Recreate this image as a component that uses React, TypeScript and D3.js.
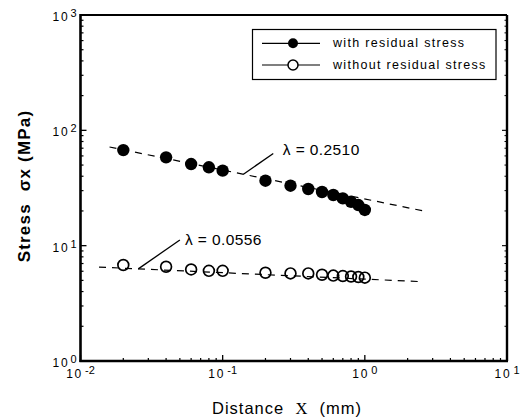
import React from 'react';
import * as d3 from 'd3';

// Measured stress along the distance from the notch root
const distance = [0.02, 0.04, 0.06, 0.08, 0.1, 0.2, 0.3, 0.4, 0.5, 0.6, 0.7, 0.8, 0.9, 1.0];
const withResidual = [67.4, 58.3, 51.0, 47.8, 44.7, 36.6, 33.1, 31.0, 29.2, 27.5, 25.7, 24.0, 22.5, 20.4];
const withoutResidual = [6.8, 6.56, 6.22, 6.05, 6.05, 5.82, 5.75, 5.75, 5.6, 5.5, 5.45, 5.4, 5.35, 5.28];

// Power-law fits  σ = A · x^(-λ)
const lambdaWith = 0.251;
const lambdaWithout = 0.0556;
const coefWith = 25.4;
const coefWithout = 5.13;
const fitRangeWith = [0.016, 2.6];
const fitRangeWithout = [0.0135, 2.4];

// Callout anchors (distance along fit, label end point, label position)
const calloutWith = { anchorX: 0.14, endX: 0.227, endY: 63, labelX: 0.265, labelY: 61 };
const calloutWithout = { anchorX: 0.0255, endX: 0.05, endY: 11.2, labelX: 0.0543, labelY: 10.1 };

const xTickValues = [0.01, 0.1, 1, 10];
const xTickExponents = ['-2', '-1', '0', '1'];
const yTickValues = [1, 10, 100, 1000];
const yTickExponents = ['0', '1', '2', '3'];
const legendLabels = ['with residual stress', 'without residual stress'];

const W = 524;
const H = 419;
const left = 80.5;
const right = 507;
const top = 15;
const bottom = 361;

const FONT = '"Liberation Sans", Arial, Helvetica, sans-serif';

function minorTicks(domain: number[]) {
  const out: number[] = [];
  for (let d = domain[0]; d < domain[1] * 0.999; d *= 10) {
    for (let k = 2; k <= 9; k++) out.push(d * k);
  }
  return out;
}

export default function App() {
  const x = d3.scaleLog().domain([0.01, 10]).range([left, right]);
  const y = d3.scaleLog().domain([1, 1000]).range([bottom, top]);

  const fit = (A: number, lam: number, range: number[]) => {
    const pts: [number, number][] = range.map((v) => [x(v), y(A * Math.pow(v, -lam))]);
    return d3.line()(pts) as string;
  };

  const xMinor = minorTicks([0.01, 10]);
  const yMinor = minorTicks([1, 1000]);

  const callout = (
    c: typeof calloutWith,
    A: number,
    lam: number,
    text: string,
  ) => (
    <g>
      <line
        x1={x(c.anchorX)}
        y1={y(A * Math.pow(c.anchorX, -lam))}
        x2={x(c.endX)}
        y2={y(c.endY)}
        stroke="#000"
        strokeWidth={1.3}
      />
      <text x={x(c.labelX)} y={y(c.labelY)} fontFamily={FONT} fontSize={15.5} letterSpacing={0.4} fill="#000">
        {text}
      </text>
    </g>
  );

  return (
    <svg width={W} height={H} style={{ position: 'absolute', left: 0, top: 0, background: '#fff' }}>
      <rect width={W} height={H} fill="#fff" />

      {/* fitted power-law lines */}
      <path d={fit(coefWith, lambdaWith, fitRangeWith)} stroke="#000" strokeWidth={1.2} strokeDasharray="7 6" fill="none" />
      <path d={fit(coefWithout, lambdaWithout, fitRangeWithout)} stroke="#000" strokeWidth={1.2} strokeDasharray="7 6" fill="none" />

      {/* data points */}
      {distance.map((d, i) => (
        <circle key={'w' + i} cx={x(d)} cy={y(withResidual[i])} r={6.2} fill="#000" />
      ))}
      {distance.map((d, i) => (
        <circle key={'o' + i} cx={x(d)} cy={y(withoutResidual[i])} r={5.4} fill="none" stroke="#000" strokeWidth={1.7} />
      ))}

      {callout(calloutWith, coefWith, lambdaWith, `λ = ${lambdaWith.toFixed(4)}`)}
      {callout(calloutWithout, coefWithout, lambdaWithout, `λ = ${lambdaWithout.toFixed(4)}`)}

      {/* frame */}
      <line x1={left} y1={top} x2={right} y2={top} stroke="#000" strokeWidth={2} />
      <line x1={right} y1={top} x2={right} y2={bottom} stroke="#000" strokeWidth={2.4} />
      <line x1={left} y1={top - 1} x2={left} y2={bottom + 1} stroke="#000" strokeWidth={2.6} />
      <line x1={left - 1} y1={bottom} x2={right + 1} y2={bottom} stroke="#000" strokeWidth={2.6} />

      {/* ticks */}
      {xMinor.map((v, i) => (
        <line key={'xm' + i} x1={x(v)} x2={x(v)} y1={bottom} y2={bottom - 3} stroke="#000" strokeWidth={1.2} />
      ))}
      {xTickValues.map((v, i) => (
        <line key={'xM' + i} x1={x(v)} x2={x(v)} y1={bottom} y2={bottom - 6} stroke="#000" strokeWidth={1.3} />
      ))}
      {yMinor.map((v, i) => (
        <g key={'ym' + i}>
          <line x1={left} x2={left + 3} y1={y(v)} y2={y(v)} stroke="#000" strokeWidth={1.2} />
          <line x1={right} x2={right - 2.5} y1={y(v)} y2={y(v)} stroke="#000" strokeWidth={1} />
        </g>
      ))}
      {yTickValues.map((v, i) => (
        <g key={'yM' + i}>
          <line x1={left} x2={left + 6} y1={y(v)} y2={y(v)} stroke="#000" strokeWidth={1.3} />
          <line x1={right} x2={right - 5} y1={y(v)} y2={y(v)} stroke="#000" strokeWidth={1.1} />
        </g>
      ))}

      {/* tick labels */}
      {xTickValues.map((v, i) => (
        <text key={'xl' + i} x={x(v)} y={bottom + 17} textAnchor="middle" fontFamily={FONT} fontSize={12} fill="#000">
          <tspan letterSpacing={1.8}>10</tspan>
          <tspan dx={2} dy={-4} fontSize={11}>{xTickExponents[i]}</tspan>
        </text>
      ))}
      {yTickValues.map((v, i) => (
        <text key={'yl' + i} x={left - 4} y={y(v) + 6} textAnchor="end" fontFamily={FONT} fontSize={12} fill="#000">
          <tspan letterSpacing={1.8}>10</tspan>
          <tspan dx={1} dy={-4} fontSize={11}>{yTickExponents[i]}</tspan>
        </text>
      ))}

      {/* axis titles */}
      <text x={287} y={414} textAnchor="middle" fontFamily={FONT} fontSize={16.5} letterSpacing={1} fill="#000" style={{ whiteSpace: 'pre' }}>
        <tspan>Distance  </tspan>
        <tspan fontFamily='"Liberation Serif", "Times New Roman", serif'>X</tspan>
        <tspan>  (mm)</tspan>
      </text>
      <text
        transform={`translate(30, 186) rotate(-90)`}
        textAnchor="middle"
        fontFamily={FONT}
        fontSize={17}
        fontWeight={600}
        letterSpacing={1.2}
        fill="#000"
        style={{ whiteSpace: 'pre' }}
      >
        {'Stress  σx (MPa)'}
      </text>

      {/* legend */}
      <g>
        <rect x={252.5} y={29.5} width={243.5} height={50} fill="#fff" stroke="#000" strokeWidth={1.2} />
        {legendLabels.map((label, i) => {
          const ly = 43.3 + i * 21.7;
          return (
            <g key={label}>
              <line x1={262} x2={320} y1={ly} y2={ly} stroke="#000" strokeWidth={1.2} />
              {i === 0 ? (
                <circle cx={293} cy={ly} r={5} fill="#000" />
              ) : (
                <circle cx={293} cy={ly} r={5} fill="#fff" stroke="#000" strokeWidth={1.5} />
              )}
              <text x={333} y={ly + 4} fontFamily={FONT} fontSize={12.5} letterSpacing={1.3} fill="#000">
                {label}
              </text>
            </g>
          );
        })}
      </g>
    </svg>
  );
}
